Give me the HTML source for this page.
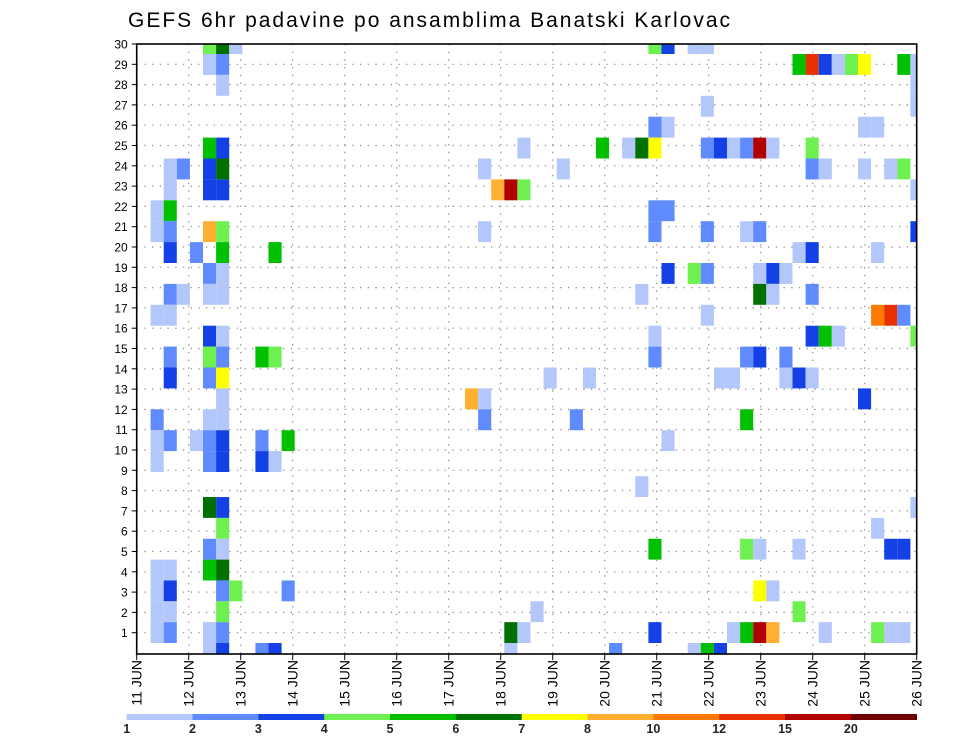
<!DOCTYPE html>
<html><head><meta charset="utf-8"><style>
html,body{margin:0;padding:0;background:#fff;}
svg{display:block;font-family:"Liberation Sans",sans-serif;}
</style></head><body>
<svg id="chart" width="960" height="742" viewBox="0 0 960 742" xmlns="http://www.w3.org/2000/svg">
<rect x="0" y="0" width="960" height="742" fill="#fff"/>
<text x="128" y="27" font-size="21" textLength="602" fill="#000">GEFS 6hr padavine po ansamblima Banatski Karlovac</text>
<g id="grid"></g><g id="cells"></g><g id="axes"></g><g id="legend"></g>
</svg>
<script>
const dayLabels=["11 JUN","12 JUN","13 JUN","14 JUN","15 JUN","16 JUN","17 JUN","18 JUN","19 JUN","20 JUN","21 JUN","22 JUN","23 JUN","24 JUN","25 JUN","26 JUN"];
const levelBounds=[1,2,3,4,5,6,7,8,10,12,15,20];
const levelColors=["#b4c7fa","#5f8bff","#1441e6","#6ef050","#00c000","#007000","#ffff00","#ffb030","#ff7800","#e83000","#b00000","#700000"];
const members=[30,29,28,27,26,25,24,23,22,21,20,19,18,17,16,15,14,13,12,11,10,8,7,6,5,4,3,2,1,0];
const steps=[
[5,6,7,39,40,42,43],
[5,6,50,51,52,53,54,55,58,59],
[6,59],
[43,59],
[39,40,55,56],
[5,6,29,35,37,38,39,43,44,45,46,47,48,51],
[2,3,5,6,26,32,51,52,55,57,58],
[2,5,6,27,28,29,59],
[1,2,39,40],
[1,2,5,6,26,39,43,46,47,59],
[2,4,6,10,50,51,56],
[5,6,40,42,43,47,48,49],
[2,3,5,6,38,47,48,51],
[1,2,43,56,57,58],
[5,6,39,51,52,53,59],
[2,5,6,9,10,39,46,47,49],
[2,5,6,31,34,44,45,49,50,51],
[6,25,26,55],
[1,5,6,26,33,46],
[1,2,4,5,6,9,11,40],
[1,5,6,9,10],
[38],
[5,6,59],
[6,56],
[5,6,39,46,47,50,57,58],
[1,2,5,6],
[1,2,6,7,11,47,48],
[1,2,6,30,50],
[1,2,5,6,28,29,39,45,46,47,48,52,56,57,58],
[5,6,9,10,28,36,42,43,44]
];
const values=[
[4.5,6.5,1.5,4.5,3.5,1.5,1.5],
[1.5,2.5,5.5,13,3.5,1.5,4.5,7.5,5.5,1.5],
[1.5,1.5],
[1.5,1.5],
[2.5,1.5,1.5,1.5],
[5.5,3.5,1.5,5.5,1.5,6.5,7.5,2.5,3.5,1.5,2.5,17,1.5,4.5],
[1.5,2.5,3.5,6.5,1.5,1.5,2.5,1.5,1.5,1.5,4.5],
[1.5,3.5,3.5,9,17,4.5,1.5],
[1.5,5.5,2.5,2.5],
[1.5,2.5,9,4.5,1.5,2.5,2.5,1.5,2.5,3.5],
[3.5,2.5,5.5,5.5,1.5,3.5,1.5],
[2.5,1.5,3.5,4.5,2.5,1.5,3.5,1.5],
[2.5,1.5,1.5,1.5,1.5,6.5,1.5,2.5],
[1.5,1.5,1.5,11,13,2.5],
[3.5,1.5,1.5,3.5,5.5,1.5,4.5],
[2.5,4.5,2.5,5.5,4.5,2.5,2.5,3.5,2.5],
[3.5,2.5,7.5,1.5,1.5,1.5,1.5,1.5,3.5,1.5],
[1.5,9,1.5,3.5],
[2.5,1.5,1.5,2.5,2.5,5.5],
[1.5,2.5,1.5,2.5,3.5,2.5,5.5,1.5],
[1.5,2.5,3.5,3.5,1.5],
[1.5],
[6.5,3.5,1.5],
[4.5,1.5],
[2.5,1.5,5.5,4.5,1.5,1.5,3.5,3.5],
[1.5,1.5,5.5,6.5],
[1.5,3.5,2.5,4.5,2.5,7.5,1.5],
[1.5,1.5,4.5,1.5,4.5],
[1.5,2.5,1.5,2.5,6.5,1.5,3.5,1.5,5.5,17,9,1.5,4.5,1.5,1.5],
[1.5,3.5,2.5,3.5,1.5,2.5,1.5,5.5,3.5]
];

const NS="http://www.w3.org/2000/svg";
const PL=136.7, PR=916.7, PT=44, PB=654;
function mk(tag,attrs,parent){const e=document.createElementNS(NS,tag);for(const k in attrs)e.setAttribute(k,attrs[k]);parent.appendChild(e);return e;}
function xDay(i){return PL+i*(PR-PL)/15;}
function yMember(r){return PT+(30-r)*20.3;}
function xCell(s){return 137.5+s*13.1;}
function yCell(r){
  if(r>=30)return [44,54];
  if(r>=9){const t=54+(29-r)*20.9;return [t,t+20.9];}
  const t=643-r*20.85;return [t,Math.min(t+20.85,PB)];
}
function colorFor(v){let i=0;for(let k=0;k<levelBounds.length;k++){if(v>=levelBounds[k])i=k;}return levelColors[i];}

const grid=document.getElementById('grid');
for(let r=1;r<=29;r++){
  const gl=mk('line',{x1:PL,x2:PR,y1:yMember(r),y2:yMember(r),stroke:'#8a8a8a','stroke-width':1.2,'stroke-dasharray':'1.3,6.4'},grid);
  
  
}
for(let i=1;i<15;i++){
  const gl=mk('line',{x1:xDay(i),x2:xDay(i),y1:PT,y2:PB,stroke:'#8a8a8a','stroke-width':1.2,'stroke-dasharray':'1.3,6.4'},grid);
  
  
}

const cells=document.getElementById('cells');
const clip=mk('clipPath',{id:'plotclip'},cells);
mk('rect',{x:PL,y:PT,width:PR-PL,height:PB-PT},clip);
const cg=mk('g',{'clip-path':'url(#plotclip)'},cells);
for(let m=0;m<members.length;m++){
  const yy=yCell(members[m]);
  for(let j=0;j<steps[m].length;j++){
    const x=xCell(steps[m][j]);
    const c=mk('rect',{x:x,y:yy[0],width:13.1,height:yy[1]-yy[0],fill:colorFor(values[m][j])},cg);
    
    
  }
}

const axes=document.getElementById('axes');
const frame=mk('rect',{x:PL,y:PT,width:PR-PL,height:PB-PT,fill:'none',stroke:'#000','stroke-width':1.6},axes);


for(let r=1;r<=30;r++){
  const y=yMember(r);
  mk('line',{x1:PL-5,x2:PL,y1:y,y2:y,stroke:'#000','stroke-width':1},axes);
  const t=mk('text',{x:PL-9,y:y+4.5,'font-size':12,'text-anchor':'end',fill:'#000'},axes);
  t.textContent=String(r);
  
  
}
for(let i=0;i<dayLabels.length;i++){
  const x=xDay(i);
  mk('line',{x1:x,x2:x,y1:PB,y2:PB+6,stroke:'#000','stroke-width':1},axes);
  const t=mk('text',{transform:'translate('+(x+5)+','+(PB+6)+') rotate(-90)','font-size':14,'text-anchor':'end',fill:'#000'},axes);
  t.textContent=dayLabels[i];
  
  
}

const legend=document.getElementById('legend');
const LL=126.7, LR=916.7, sw=(LR-LL)/levelColors.length;
for(let i=0;i<levelColors.length;i++){
  const s=mk('rect',{x:LL+i*sw,y:714,width:sw+0.3,height:6,fill:levelColors[i]},legend);
  
  
  const t=mk('text',{x:LL+i*sw,y:733,'font-size':12.5,'font-weight':'bold','text-anchor':'middle',fill:'#222'},legend);
  t.textContent=String(levelBounds[i]);
  
  
}
</script>
</body></html>
